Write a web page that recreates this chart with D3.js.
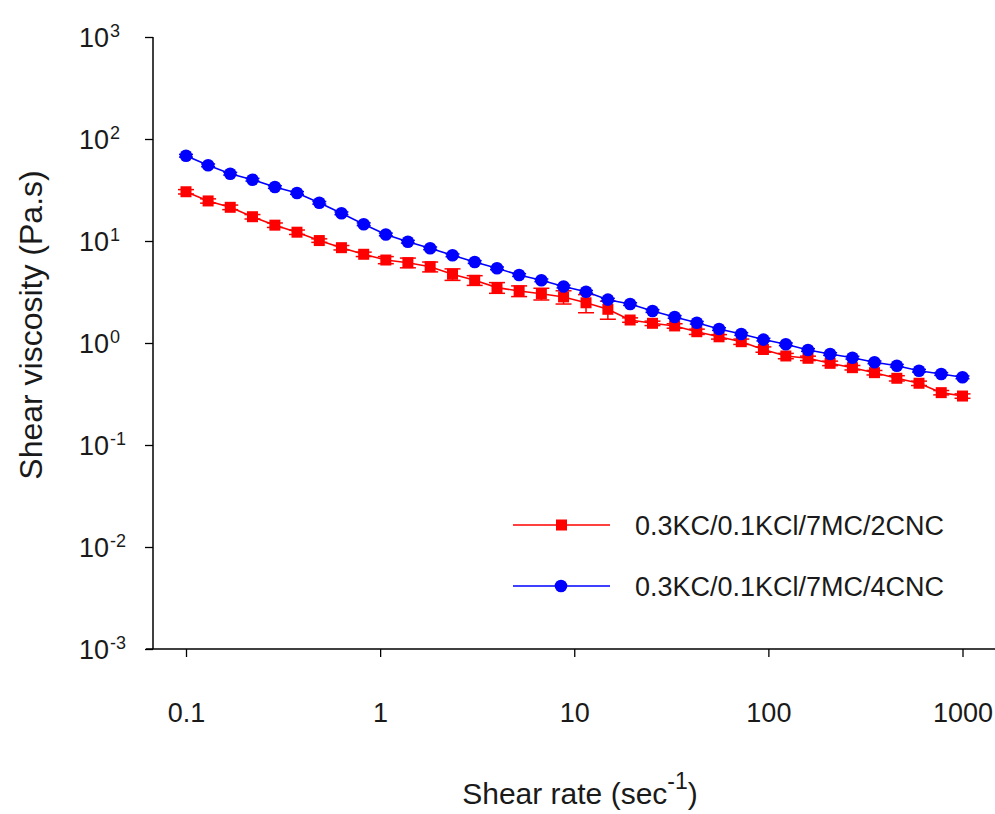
<!DOCTYPE html>
<html><head><meta charset="utf-8">
<script src="https://cdn.jsdelivr.net/npm/d3@7/dist/d3.min.js"></script>
<style>
body{margin:0;background:#fff;}
svg{display:block;}
text{font-family:"Liberation Sans",Arial,sans-serif;fill:#1a1a1a;}
</style></head>
<body>
<svg id="chart" width="995" height="814"></svg>
<script>
// ---- data ----
const shearRate = [0.1,0.130,0.169,0.220,0.287,0.373,0.486,0.632,0.823,1.07,1.39,1.81,2.36,3.07,4.0,5.2,6.77,8.81,11.5,14.9,19.4,25.3,32.9,42.8,55.7,72.5,94.3,123,160,208,271,352,459,597,777,1000];
const visc2CNC = [30.4,24.7,21.4,17.3,14.3,12.2,10.1,8.60,7.41,6.51,6.13,5.60,4.72,4.12,3.49,3.24,3.04,2.83,2.48,2.14,1.68,1.56,1.47,1.29,1.15,1.03,0.864,0.746,0.708,0.632,0.573,0.512,0.451,0.403,0.326,0.302];
const err2CNC = [1.5,1.2,1.1,0.87,0.72,0.61,0.40,0.43,0.37,0.52,0.67,0.62,0.61,0.45,0.42,0.39,0.40,0.42,0.50,0.43,0.084,0.078,0.074,0.077,0.058,0.062,0.052,0.045,0.035,0.032,0.029,0.026,0.027,0.020,0.016,0.015];
const visc4CNC = [68.6,55.2,45.7,39.9,33.8,29.6,23.7,18.7,14.6,11.6,9.84,8.48,7.24,6.22,5.40,4.64,4.12,3.58,3.18,2.66,2.41,2.06,1.80,1.58,1.37,1.225,1.08,0.971,0.854,0.780,0.718,0.647,0.599,0.535,0.497,0.461];
const err4CNC = [2.1,1.7,1.4,1.2,1.0,0.9,0.7,0.56,0.44,0.35,0.3,0.25,0.22,0.19,0.16,0.14,0.12,0.11,0.095,0.08,0.072,0.062,0.054,0.047,0.041,0.037,0.032,0.029,0.026,0.023,0.022,0.019,0.018,0.016,0.015,0.014];
const seriesNames = ["0.3KC/0.1KCl/7MC/2CNC","0.3KC/0.1KCl/7MC/4CNC"];
const xTicks = [0.1,1,10,100,1000];
const xTickLabels = ["0.1","1","10","100","1000"];
const yTickExp = [3,2,1,0,-1,-2,-3];

const svg = d3.select("#chart");
const x = d3.scaleLog().domain([0.1,1000]).range([186,962.5]);
const y = d3.scaleLog().domain([1e-3,1e3]).range([649,37]);
const axisX0 = 146, axisX1 = 995, axisYx = 153;

// x axis
const gx = svg.append("g").attr("transform",`translate(0,${y(1e-3)})`)
  .call(d3.axisBottom(x).tickValues(xTicks).tickSize(8).tickSizeOuter(0)
    .tickFormat((d,i)=>xTickLabels[i]));
gx.select(".domain").remove();
gx.selectAll(".tick line").attr("stroke","#000").attr("stroke-width",1.3);
gx.selectAll(".tick text").attr("y",73).attr("dy",0).style("font-size","27px").attr("fill","#1a1a1a");
svg.append("line").attr("x1",axisX0).attr("x2",axisX1).attr("y1",y(1e-3)).attr("y2",y(1e-3))
  .attr("stroke","#000").attr("stroke-width",1.5);

// y axis
const gy = svg.append("g").attr("transform",`translate(${axisYx},0)`)
  .call(d3.axisLeft(y).tickValues(yTickExp.map(e=>Math.pow(10,e))).tickSize(8).tickSizeOuter(0).tickFormat(""));
gy.select(".domain").remove();
gy.selectAll(".tick line").attr("stroke","#000").attr("stroke-width",1.3);
gy.selectAll(".tick").each(function(d){
  const e = Math.round(Math.log10(d));
  d3.select(this).append("text").attr("x",-44).attr("y",9.5).attr("text-anchor","end")
    .style("font-size","27px").attr("fill","#1a1a1a").text("10");
  d3.select(this).append("text").attr("x",-43).attr("y",-1).attr("text-anchor","start")
    .style("font-size","18px").attr("fill","#1a1a1a").text(e);
});
svg.append("line").attr("x1",axisYx).attr("x2",axisYx).attr("y1",y(1e3)).attr("y2",y(1e-3))
  .attr("stroke","#000").attr("stroke-width",1.5);

// series
const series = [
  {name:seriesNames[0], v:visc2CNC, e:err2CNC, color:"#ff0000", shape:"square", cap:16},
  {name:seriesNames[1], v:visc4CNC, e:err4CNC, color:"#0000ff", shape:"circle", cap:14}
];
const line = d3.line().x(d=>x(d.x)).y(d=>y(d.v));
series.forEach(s=>{
  const pts = shearRate.map((xv,i)=>({x:xv,v:s.v[i],e:s.e[i]}));
  const g = svg.append("g");
  g.append("path").datum(pts).attr("d",line).attr("fill","none").attr("stroke",s.color).attr("stroke-width",1.6);
  const eb = g.selectAll(".eb").data(pts).enter().append("g");
  eb.append("line").attr("x1",d=>x(d.x)).attr("x2",d=>x(d.x)).attr("y1",d=>y(d.v+d.e)).attr("y2",d=>y(d.v-d.e))
    .attr("stroke",s.color).attr("stroke-width",1.5);
  [1,-1].forEach(sg=>{
    eb.append("line").attr("x1",d=>x(d.x)-s.cap/2).attr("x2",d=>x(d.x)+s.cap/2)
      .attr("y1",d=>y(d.v+sg*d.e)).attr("y2",d=>y(d.v+sg*d.e)).attr("stroke",s.color).attr("stroke-width",1.5);
  });
  if(s.shape==="square"){
    g.selectAll(".m").data(pts).enter().append("rect")
      .attr("x",d=>x(d.x)-5.5).attr("y",d=>y(d.v)-5.5).attr("width",11).attr("height",11).attr("fill",s.color);
  } else {
    g.selectAll(".m").data(pts).enter().append("circle")
      .attr("cx",d=>x(d.x)).attr("cy",d=>y(d.v)).attr("r",6.3).attr("fill",s.color);
  }
});

// legend
const leg = svg.append("g");
series.forEach((s,i)=>{
  const ly = 525 + i*61;
  leg.append("line").attr("x1",513).attr("x2",610).attr("y1",ly).attr("y2",ly).attr("stroke",s.color).attr("stroke-width",1.6);
  if(s.shape==="square") leg.append("rect").attr("x",556).attr("y",ly-5.5).attr("width",11).attr("height",11).attr("fill",s.color);
  else leg.append("circle").attr("cx",561).attr("cy",ly).attr("r",6.3).attr("fill",s.color);
  leg.append("text").attr("x",635).attr("y",ly+10).style("font-size","27px").text(s.name);
});

// axis titles
const xt = svg.append("text").attr("x",580).attr("y",804).attr("text-anchor","middle").style("font-size","30px");
xt.append("tspan").text("Shear rate (sec");
xt.append("tspan").attr("dy",-15).style("font-size","23px").text("-1");
xt.append("tspan").attr("dy",15).text(")");
svg.append("text").attr("transform","translate(42,325) rotate(-90)").attr("text-anchor","middle")
  .style("font-size","32px").text("Shear viscosity (Pa.s)");
</script>
</body></html>
